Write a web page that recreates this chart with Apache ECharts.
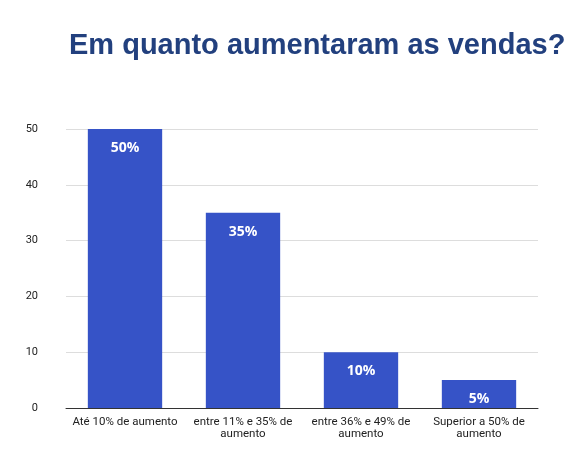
<!DOCTYPE html><html><head><meta charset="utf-8">
<script src="https://cdn.jsdelivr.net/npm/echarts@6/dist/echarts.min.js"></script>
<style>html,body{margin:0;padding:0;background:#fff}#c{width:580px;height:467px}</style></head>
<body><div id="c"></div><script>
const categories=["Até 10% de aumento","entre 11% e 35% de\naumento","entre 36% e 49% de\naumento","Superior a 50% de\naumento"];
const values=[50,35,10,5];
const barLabels=["50%","35%","10%","5%"];
const yTicks=[0,10,20,30,40,50];
const chart=echarts.init(document.getElementById('c'));
chart.setOption({
 title:{text:"Em quanto aumentaram as vendas?",left:64,top:26,textStyle:{color:"#22407e",fontSize:29,fontWeight:"bold",fontFamily:"Liberation Sans"}},
 grid:{left:66,right:42,top:129,bottom:59},
 xAxis:{type:"category",data:categories,axisTick:{show:false},axisLine:{lineStyle:{color:"#333"}},
  axisLabel:{color:"#222",fontSize:11.5,fontFamily:"Roboto",interval:0,lineHeight:12}},
 yAxis:{type:"value",min:yTicks[0],max:yTicks[yTicks.length-1],interval:10,
  axisLabel:{color:"#222",fontSize:11,fontFamily:"Roboto",margin:28},splitLine:{lineStyle:{color:"#ddd"}}},
 series:[{type:"bar",data:values,barWidth:"63%",itemStyle:{color:"#3653c7"},
  label:{show:true,position:"insideTop",distance:12,color:"#fff",fontWeight:"bold",fontSize:14,fontFamily:"Open Sans",
   formatter:p=>barLabels[p.dataIndex]}}]
});
</script></body></html>
